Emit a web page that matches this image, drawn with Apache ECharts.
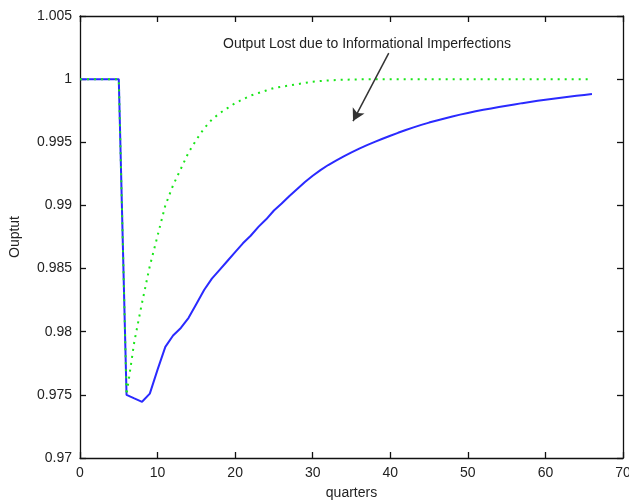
<!DOCTYPE html>
<html>
<head>
<meta charset="utf-8">
<script src="https://cdn.jsdelivr.net/npm/echarts@6/dist/echarts.min.js"></script>
<style>
html,body{margin:0;padding:0;background:#fff;}
#chart{width:629px;height:503px;}
</style>
</head>
<body>
<div id="chart"></div>
<script>
// quarters (x values)
var quarters = [0,1,2,3,4,5,6,7,8,9,10,11,12,13,14,15,16,17,18,19,20,21,22,23,24,25,26,27,28,29,30,31,32,33,34,35,36,37,38,39,40,41,42,43,44,45,46,47,48,49,50,51,52,53,54,55,56,57,58,59,60,61,62,63,64,65,66];
// output with informational imperfections (blue solid)
var outputImperfect = [1,1,1,1,1,1,0.975,0.97472,0.97445,0.9751,0.977,0.9788,0.9797,0.9803,0.9811,0.9822,0.9833,0.9842,0.9849,0.9856,0.9863,0.987,0.9876,0.9883,0.9889,0.9896,0.99015,0.99075,0.9913,0.99185,0.99235,0.9928,0.9932,0.99355,0.99388,0.9942,0.9945,0.99477,0.99503,0.99528,0.99552,0.99575,0.99597,0.99618,0.99638,0.99656,0.99673,0.99689,0.99704,0.99719,0.99732,0.99745,0.99757,0.99768,0.99779,0.9979,0.998,0.9981,0.99819,0.99828,0.99837,0.99845,0.99853,0.99861,0.99868,0.99875,0.99882];
// output with full information (green dotted)
var outputFull = [1,1,1,1,1,1,0.975,0.9792,0.9823,0.9852,0.9876,0.99,0.9916,0.9929,0.9942,0.9952,0.9961,0.9968,0.9973,0.9977,0.9981,0.9984,0.9987,0.9989,0.9991,0.9993,0.9994,0.9995,0.9996,0.9997,0.9998,0.99985,0.9999,0.99993,0.99995,0.99997,0.99998,0.99999,1,1,1,1,1,1,1,1,1,1,1,1,1,1,1,1,1,1,1,1,1,1,1,1,1,1,1,1,1];
// annotation
var annotationText = 'Output Lost due to Informational Imperfections';
var annotationAt = [37.0, 1.00277];
var arrowFrom = [39.8, 1.00206];
var arrowTo = [35.2, 0.99668];

var xTicks = {min: 0, max: 70, interval: 10};
var yTicks = {min: 0.97, max: 1.005, interval: 0.005};

function pairs(xs, ys) { return xs.map(function (x, i) { return [x, ys[i]]; }); }

var FONT = '"Liberation Sans", Arial, sans-serif';
var axisCommon = {
  axisLine: {show: true, onZero: false, lineStyle: {color: '#111', width: 1.3}},
  axisTick: {show: true, inside: true, length: 6, lineStyle: {color: '#111', width: 1.3}},
  splitLine: {show: false}
};
function mk(base, extra) { return Object.assign({}, axisCommon, base, extra); }

var chart = echarts.init(document.getElementById('chart'), null, {renderer: 'canvas'});
chart.setOption({
  animation: false,
  backgroundColor: '#fff',
  grid: {left: 80, right: 6, top: 16, bottom: 45, containLabel: false, outerBoundsMode: 'none'},
  xAxis: [
    mk({type: 'value', position: 'bottom', min: xTicks.min, max: xTicks.max, interval: xTicks.interval,
      name: 'quarters', nameLocation: 'middle', nameGap: 28,
      nameTextStyle: {fontFamily: FONT, fontSize: 14, color: '#222'},
      axisLabel: {show: true, margin: 8, fontFamily: FONT, fontSize: 14, color: '#222'}}),
    mk({type: 'value', position: 'top', min: xTicks.min, max: xTicks.max, interval: xTicks.interval,
      axisLabel: {show: false}})
  ],
  yAxis: [
    mk({type: 'value', position: 'left', min: yTicks.min, max: yTicks.max, interval: yTicks.interval,
      name: 'Ouptut', nameLocation: 'middle', nameGap: 58, nameRotate: 90,
      nameTextStyle: {fontFamily: FONT, fontSize: 14, color: '#222'},
      axisLabel: {show: true, margin: 8, fontFamily: FONT, fontSize: 14, color: '#222',
        formatter: function (v) { return String(parseFloat(v.toFixed(3))); }}}),
    mk({type: 'value', position: 'right', min: yTicks.min, max: yTicks.max, interval: yTicks.interval,
      axisLabel: {show: false}})
  ],
  series: [
    {
      type: 'line', name: 'imperfect', data: pairs(quarters, outputImperfect),
      showSymbol: false, symbol: 'none', smooth: false,
      lineStyle: {color: '#2a2aff', width: 2}, z: 2
    },
    {
      type: 'line', name: 'full', data: pairs(quarters, outputFull),
      showSymbol: false, symbol: 'none', smooth: false,
      lineStyle: {color: '#19e619', width: 2, type: [2, 5]}, z: 3,
      markPoint: {
        symbol: 'circle', symbolSize: 0, silent: true,
        label: {show: true, position: 'inside', formatter: annotationText,
          fontFamily: FONT, fontSize: 14, color: '#222'},
        data: [{coord: annotationAt}]
      },
      markLine: {
        silent: true, symbol: ['none', 'arrow'], symbolSize: [10, 12],
        label: {show: false},
        lineStyle: {color: '#333', width: 1.5, type: 'solid'},
        data: [[{coord: arrowFrom}, {coord: arrowTo}]]
      }
    }
  ]
});
</script>
</body>
</html>
